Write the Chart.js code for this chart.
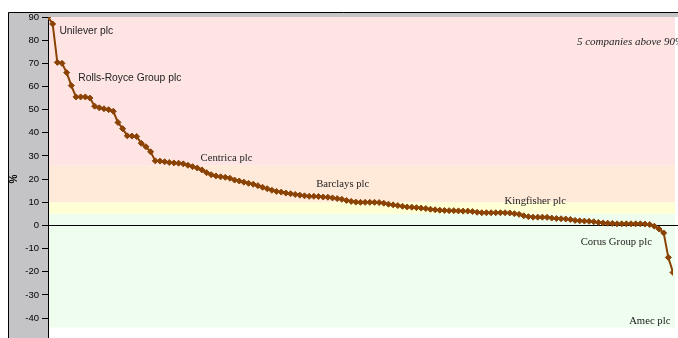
<!DOCTYPE html>
<html>
<head>
<meta charset="utf-8">
<script src="https://cdn.jsdelivr.net/npm/chart.js@4.4.0/dist/chart.umd.min.js"></script>
<style>
  html, body { margin: 0; padding: 0; background: #fff; }
  #wrap { width: 678px; height: 338px; overflow: hidden; }
</style>
</head>
<body>
<div id="wrap"><canvas id="myChart" width="678" height="350"></canvas></div>
<script>
// % change per company, ranked high to low
const values = [
  90, 87, 70.4, 70, 66, 60.4, 55.5, 55.5, 55.5, 55,
  51.5, 50.8, 50.4, 50, 49.3, 44.5, 41.8, 38.7, 38.6, 38.4,
  35.5, 34, 31.8, 27.9, 27.8, 27.5, 27.2, 27, 26.9, 26.6,
  26, 25.4, 24.8, 24, 22.8, 21.9, 21.4, 21, 20.8, 20.4,
  19.6, 19.2, 18.7, 18.2, 17.8, 17.2, 16.5, 15.9, 15.2, 14.7,
  14.4, 14, 13.7, 13.4, 13.1, 12.8, 12.6, 12.6, 12.5, 12.3,
  12.2, 11.9, 11.6, 11.3, 10.8, 10.4, 10.1, 10, 10, 10,
  10, 9.9, 9.6, 9.2, 8.9, 8.6, 8.3, 8, 7.9, 7.7,
  7.5, 7.3, 7, 6.8, 6.6, 6.5, 6.4, 6.4, 6.3, 6.2,
  6.2, 6, 5.7, 5.5, 5.5, 5.5, 5.5, 5.5, 5.5, 5.4,
  5.1, 4.8, 4.2, 3.8, 3.6, 3.6, 3.6, 3.5, 3.2, 3,
  2.9, 2.8, 2.6, 2.2, 2, 1.9, 1.8, 1.6, 1.3, 1.1,
  1, 0.9, 0.7, 0.7, 0.7, 0.7, 0.7, 0.7, 0.6, 0.4,
  -0.3, -1.5, -3.2, -13.8, -20.3
];
const ranks = values.map((v, i) => i + 1);

// background band edges, top to bottom (%)
const bandEdges = [90, 26, 10, 5, -44];

// notes on the plot: text, rank index, % level
const noteText = ["Unilever plc", "Rolls-Royce Group plc", "Centrica plc", "Barclays plc",
  "Kingfisher plc", "Corus Group plc", "Amec plc", "5 companies above 90%"];
const noteIndex = [2.45, 6.5, 32.7, 57.5, 97.9, 114.2, 124.6, 113.4];
const noteValue = [84.1, 63.5, 29.2, 17.8, 10.3, -7.3, -41.2, 79];

const bandColors = ["#ffe4e4", "#ffe9d9", "#ffffd6", "#eefdee"];
const noteFonts = ["10.3px 'Liberation Sans', Arial", "10.3px 'Liberation Sans', Arial",
  "10.7px 'Liberation Serif'", "10.7px 'Liberation Serif'", "10.7px 'Liberation Serif'",
  "10.7px 'Liberation Serif'", "10.7px 'Liberation Serif'", "italic 11px 'Liberation Serif'"];

const backdrop = {
  id: "backdrop",
  beforeDraw(chart) {
    const { ctx, chartArea: a, scales: { y } } = chart;
    ctx.save();
    // grey frame pieces (left strip + thin strip above 90)
    ctx.fillStyle = "#c4c4c6";
    ctx.fillRect(8, 12, a.left - 8, chart.height - 12);
    ctx.fillRect(8, 12, chart.width - 8, a.top - 12);
    ctx.strokeStyle = "#000";
    ctx.lineWidth = 1;
    ctx.beginPath();
    ctx.moveTo(8.5, chart.height);
    ctx.lineTo(8.5, 12.5);
    ctx.lineTo(chart.width, 12.5);
    ctx.stroke();
    // bands
    for (let i = 0; i < bandColors.length; i++) {
      const top = y.getPixelForValue(bandEdges[i]);
      const bot = y.getPixelForValue(bandEdges[i + 1]);
      ctx.fillStyle = bandColors[i];
      ctx.fillRect(a.left, top, a.right - a.left + 2, bot - top);
    }
    // zero line
    const z = Math.round(y.getPixelForValue(0)) + 0.5;
    ctx.strokeStyle = "#000";
    ctx.beginPath();
    ctx.moveTo(a.left, z);
    ctx.lineTo(chart.width, z);
    ctx.stroke();
    ctx.restore();
  },
  afterDatasetsDraw(chart) {
    const { ctx, scales: { x, y } } = chart;
    ctx.save();
    ctx.fillStyle = "#222";
    ctx.textAlign = "left";
    ctx.textBaseline = "middle";
    noteText.forEach((t, i) => {
      ctx.font = noteFonts[i];
      ctx.fillText(t, x.getPixelForValue(noteIndex[i]), y.getPixelForValue(noteValue[i]));
    });
    ctx.restore();
  }
};

const config = {
  type: "line",
  data: {
    labels: ranks,
    datasets: [
      {
        label: "%",
        data: values.map((v, i) => ({ x: i, y: v })),
        borderColor: "#8a4304",
        backgroundColor: "#8a4304",
        borderWidth: 2,
        pointStyle: "rectRot",
        pointRadius: 3,
        pointBorderWidth: 1,
        tension: 0,
      },
    ],
  },
  options: {
    responsive: false,
    animation: false,
    layout: { padding: { left: 8, top: 17, right: 1, bottom: 7 } },
    plugins: { legend: { display: false }, tooltip: { enabled: false } },
    scales: {
      x: {
        type: "linear",
        min: 0,
        max: values.length - 1,
        display: false,
        offset: false,
      },
      y: {
        min: -50,
        max: 90,
        afterFit(scale) { scale.width = 40; },
        ticks: {
          stepSize: 10,
          color: "#000",
          padding: 3,
          font: { family: "'Liberation Sans', Arial", size: 9.5 },
        },
        grid: { drawOnChartArea: false, tickLength: 6, color: "#000" },
        border: { display: true, color: "#000", width: 1 },
        title: {
          display: true,
          text: "%",
          color: "#000",
          padding: 0,
          font: { family: "'Liberation Sans', Arial", size: 10, weight: "bold" },
        },
      },
    },
  },
  plugins: [backdrop],
};

const ctx = document.querySelector("#myChart");
const myChart = new Chart(ctx, config);
</script>
</body>
</html>
